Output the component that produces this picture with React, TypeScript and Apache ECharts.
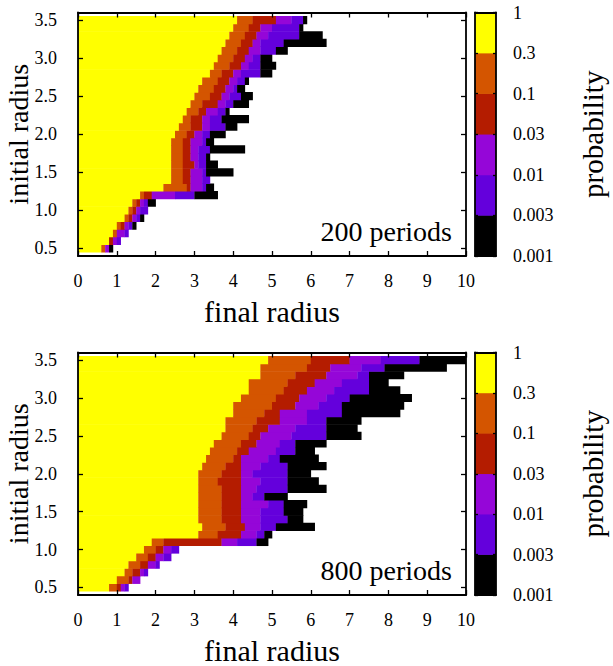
import React, { useEffect, useRef } from "react";
import * as echarts from "echarts";

// ---------- data ----------
const rowCenters = [0.5, 0.6, 0.7, 0.8, 0.9, 1.0, 1.1, 1.2, 1.3, 1.4, 1.5, 1.6, 1.7, 1.8, 1.9, 2.0, 2.1, 2.2, 2.3, 2.4, 2.5, 2.6, 2.7, 2.8, 2.9, 3.0, 3.1, 3.2, 3.3, 3.4, 3.5];
const yTickValues = [0.5, 1.0, 1.5, 2.0, 2.5, 3.0, 3.5];
const probabilityLabels = ["0.001", "0.003", "0.01", "0.03", "0.1", "0.3", "1"];
const bandColors = ["#ffff00", "#d45500", "#b41c00", "#9506d8", "#6400dc", "#000000"];
const panelTitles = ["200 periods", "800 periods"];

// right edge (final radius) of each probability band per initial-radius row (0.5 -> 3.5)
// 200 periods
const yellowEnd200 = [0.6, 0.8, 0.9, 1.0, 1.2, 1.3, 1.4, 1.6, 2.2, 2.4, 2.4, 2.4, 2.4, 2.4, 2.4, 2.5, 2.6, 2.7, 2.8, 2.9, 3.0, 3.1, 3.2, 3.4, 3.5, 3.6, 3.7, 3.8, 3.9, 4.0, 4.1];
const orangeEnd200 = [0.7, 0.8, 1.0, 1.1, 1.3, 1.4, 1.5, 1.7, 2.8, 2.7, 2.7, 2.7, 2.7, 2.7, 2.7, 2.8, 2.9, 2.9, 3.1, 3.2, 3.4, 3.5, 3.6, 3.7, 3.9, 4.0, 4.1, 4.2, 4.3, 4.4, 4.5];
const redEnd200 = [0.7, 0.9, 1.0, 1.2, 1.4, 1.5, 1.6, 1.9, 2.9, 2.9, 2.9, 3.0, 2.9, 2.9, 2.9, 3.0, 3.2, 3.2, 3.3, 3.6, 3.7, 3.8, 3.9, 4.0, 4.2, 4.3, 4.4, 4.5, 4.6, 4.7, 5.1];
const purpleEnd200 = [0.8, 1.0, 1.2, 1.3, 1.5, 1.6, 1.7, 2.5, 3.2, 3.2, 3.2, 3.1, 3.1, 3.1, 3.2, 3.2, 3.4, 3.4, 3.6, 3.8, 3.9, 4.0, 4.1, 4.2, 4.4, 4.5, 4.7, 4.7, 4.9, 5.0, 5.5];
const blueEnd200 = [0.8, 1.1, 1.3, 1.4, 1.6, 1.8, 1.8, 3.0, 3.3, 3.4, 3.3, 3.3, 3.3, 3.4, 3.3, 3.4, 3.8, 3.7, 3.8, 4.0, 4.2, 4.1, 4.3, 4.7, 4.7, 4.7, 5.1, 5.3, 5.7, 5.7, 5.8];
const blackEnd200 = [0.9, 1.1, 1.3, 1.5, 1.7, 1.8, 2.0, 3.6, 3.5, 3.4, 4.0, 3.6, 3.4, 4.3, 3.5, 3.8, 4.1, 4.4, 3.9, 4.4, 4.5, 4.3, 4.4, 5.0, 5.1, 5.0, 5.4, 6.4, 6.3, 5.8, 5.9];
// 800 periods
const yellowEnd800 = [0.8, 1.0, 1.2, 1.3, 1.5, 1.7, 1.9, 3.1, 3.2, 3.1, 3.1, 3.1, 3.1, 3.1, 3.1, 3.1, 3.2, 3.3, 3.4, 3.5, 3.7, 3.8, 3.8, 4.0, 4.0, 4.2, 4.4, 4.4, 4.7, 4.7, 4.9];
const orangeEnd800 = [1.0, 1.3, 1.4, 1.6, 1.8, 2.0, 2.2, 3.6, 3.8, 3.7, 3.7, 3.7, 3.7, 3.7, 3.6, 3.7, 3.8, 4.0, 4.1, 4.2, 4.4, 4.5, 4.6, 4.8, 5.0, 5.1, 5.3, 5.4, 5.6, 5.9, 6.0];
const redEnd800 = [1.1, 1.4, 1.6, 1.8, 2.0, 2.2, 3.7, 4.2, 4.3, 4.2, 4.2, 4.2, 4.2, 4.2, 4.2, 4.2, 4.2, 4.2, 4.4, 4.6, 4.7, 4.9, 5.2, 5.2, 5.6, 5.7, 5.9, 6.1, 6.4, 6.5, 7.0];
const purpleEnd800 = [1.2, 1.6, 1.7, 2.0, 2.2, 2.4, 4.1, 4.6, 4.7, 4.7, 4.7, 4.9, 4.5, 4.6, 4.7, 4.5, 4.7, 4.9, 5.1, 5.2, 5.5, 5.6, 5.9, 5.9, 6.2, 6.4, 6.6, 6.8, 7.2, 7.3, 7.8];
const blueEnd800 = [1.3, 1.6, 1.8, 2.1, 2.4, 2.6, 4.6, 4.8, 5.1, 5.4, 5.3, 5.3, 4.8, 5.4, 5.4, 5.4, 5.4, 5.2, 5.6, 5.6, 6.4, 6.4, 6.4, 6.8, 6.8, 7.0, 7.5, 7.5, 7.5, 7.9, 8.8];
const blackEnd800 = [1.3, 1.6, 1.8, 2.1, 2.4, 2.6, 4.9, 5.0, 6.1, 5.8, 5.8, 5.9, 5.4, 6.4, 6.2, 6.0, 6.4, 6.2, 6.1, 6.4, 7.3, 7.2, 7.3, 8.3, 8.4, 8.6, 8.3, 8.0, 8.4, 9.5, 10.0];

// ---------- helpers ----------
function buildCells(ends: number[][]) {
  const cells: number[][] = [];
  rowCenters.forEach((r, i) => {
    let start = 0;
    ends.forEach((arr, b) => {
      const end = arr[i];
      if (end > start + 1e-9) {
        cells.push([start, end, r, b]);
        start = end;
      }
    });
  });
  return cells;
}

const FONT = '"Liberation Serif", "DejaVu Serif", serif';
const LINE = "#000";
const LW = 1.8;

const panels = [
  { top: 12.5, height: 243.5, cells: buildCells([yellowEnd200, orangeEnd200, redEnd200, purpleEnd200, blueEnd200, blackEnd200]) },
  { top: 352.5, height: 242.5, cells: buildCells([yellowEnd800, orangeEnd800, redEnd800, purpleEnd800, blueEnd800, blackEnd800]) },
];

export default function App() {
  const ref = useRef<HTMLDivElement>(null);
  useEffect(() => {
    if (!ref.current) return;
    const chart = echarts.init(ref.current, null, { renderer: "svg" });

    const grid: any[] = [];
    const xAxis: any[] = [];
    const yAxis: any[] = [];
    const series: any[] = [];
    const graphic: any[] = [];

    const tick = { show: true, inside: true, length: 5, lineStyle: { color: LINE, width: 1.3 } };
    const axisLine = { show: true, onZero: false, lineStyle: { color: LINE, width: LW } };

    panels.forEach((p, k) => {
      // main heat map grid
      grid.push({ left: 78, top: p.top, width: 388, height: p.height, containLabel: false, outerBoundsMode: "none" });
      const g = grid.length - 1;
      const xb = xAxis.length;
      xAxis.push({
        type: "value", gridIndex: g, position: "bottom", min: 0, max: 10, interval: 1, z: 10,
        axisLine, axisTick: tick, splitLine: { show: false },
        axisLabel: { show: true, margin: 16, color: "#000", fontFamily: FONT, fontSize: 18 },
        name: "final radius", nameLocation: "middle", nameGap: 40,
        nameTextStyle: { color: "#000", fontFamily: FONT, fontSize: 30 },
      });
      xAxis.push({
        type: "value", gridIndex: g, position: "top", min: 0, max: 10, interval: 1, z: 10,
        axisLine, axisTick: tick, splitLine: { show: false }, axisLabel: { show: false },
      });
      const yl = yAxis.length;
      yAxis.push({
        type: "value", gridIndex: g, position: "left", min: 0.4, max: 3.6, z: 10,
        axisLine, splitLine: { show: false },
        axisTick: { ...tick, customValues: yTickValues },
        axisLabel: { show: true, margin: 21, color: "#000", fontFamily: FONT, fontSize: 18, customValues: yTickValues, formatter: (v: number) => v.toFixed(1) },
        name: "initial radius", nameLocation: "middle", nameGap: 46, nameRotate: 90, nameMoveOverlap: false,
        nameTextStyle: { color: "#000", fontFamily: FONT, fontSize: 28 },
      });
      yAxis.push({
        type: "value", gridIndex: g, position: "right", min: 0.4, max: 3.6, z: 10,
        axisLine, splitLine: { show: false },
        axisTick: { ...tick, customValues: yTickValues },
        axisLabel: { show: false },
      });
      series.push({
        type: "custom", xAxisIndex: xb, yAxisIndex: yl, z: 2, clip: true,
        encode: { x: [0, 1], y: 2 },
        data: p.cells,
        renderItem: (params: any, api: any) => {
          const x0 = api.value(0), x1 = api.value(1), yc = api.value(2), b = api.value(3);
          const p0 = api.coord([x0, yc + 0.05]);
          const p1 = api.coord([x1, yc - 0.05]);
          return {
            type: "rect",
            shape: { x: p0[0], y: p0[1] - 0.3, width: p1[0] - p0[0] + 0.3, height: p1[1] - p0[1] + 0.6 },
            style: { fill: bandColors[b] },
          };
        },
      });

      // colour bar grid
      grid.push({ left: 475, top: p.top, width: 21, height: p.height, containLabel: false, outerBoundsMode: "none" });
      const gc = grid.length - 1;
      const cx = xAxis.length;
      xAxis.push({ type: "value", gridIndex: gc, position: "bottom", min: 0, max: 1, z: 10, axisLine, axisTick: { show: false }, axisLabel: { show: false }, splitLine: { show: false } });
      xAxis.push({ type: "value", gridIndex: gc, position: "top", min: 0, max: 1, z: 10, axisLine, axisTick: { show: false }, axisLabel: { show: false }, splitLine: { show: false } });
      const cy = yAxis.length;
      yAxis.push({ type: "value", gridIndex: gc, position: "left", min: 0, max: 6, interval: 1, z: 10, axisLine, axisTick: { ...tick, length: 3 }, axisLabel: { show: false }, splitLine: { show: false } });
      yAxis.push({
        type: "value", gridIndex: gc, position: "right", min: 0, max: 6, interval: 1, z: 10,
        axisLine, axisTick: { ...tick, length: 3 }, splitLine: { show: false },
        axisLabel: { show: true, margin: 17, color: "#000", fontFamily: FONT, fontSize: 18, formatter: (v: number) => probabilityLabels[Math.round(v)] },
        name: "probability", nameLocation: "middle", nameGap: 82, nameRotate: 90,
        nameTextStyle: { color: "#000", fontFamily: FONT, fontSize: 29 },
      });
      series.push({
        type: "custom", xAxisIndex: cx, yAxisIndex: cy, z: 2,
        encode: { x: 0, y: 1 },
        data: bandColors.map((_, i) => [0, i]),
        renderItem: (params: any, api: any) => {
          const i = api.value(1);
          const p0 = api.coord([0, i + 1]);
          const p1 = api.coord([1, i]);
          return {
            type: "rect",
            shape: { x: p0[0], y: p0[1] - 0.3, width: p1[0] - p0[0], height: p1[1] - p0[1] + 0.6 },
            style: { fill: bandColors[5 - i] },
          };
        },
      });

      graphic.push({
        type: "text", x: 452, y: p.top + p.height - 11, z: 20,
        style: { text: panelTitles[k], font: `28px ${FONT}`, fill: "#000", align: "right", verticalAlign: "bottom" },
      });
    });

    chart.setOption({
      animation: false,
      backgroundColor: "#fff",
      textStyle: { fontFamily: FONT },
      grid, xAxis, yAxis, series, graphic,
    });
    return () => chart.dispose();
  }, []);
  return <div ref={ref} style={{ position: "fixed", left: 0, top: 0, width: 613, height: 666 }} />;
}
